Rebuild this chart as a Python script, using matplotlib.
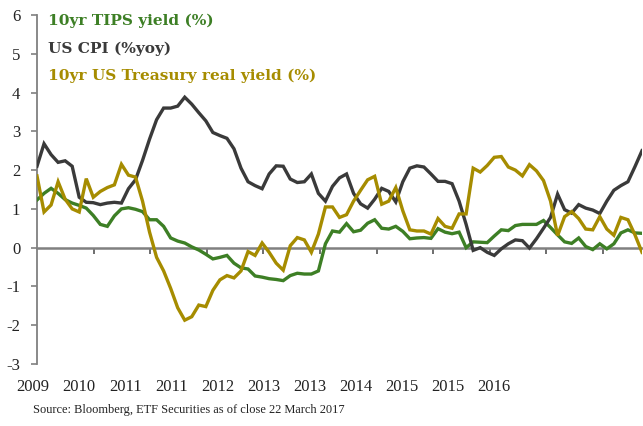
import numpy as np
import matplotlib
matplotlib.use("Agg")
import matplotlib.pyplot as plt

# ---- data ----
cpi = [2.1, 2.68, 2.4, 2.2, 2.24, 2.1, 1.3, 1.17, 1.16, 1.11,
       1.15, 1.17, 1.15, 1.52, 1.75, 2.25, 2.8, 3.3, 3.6, 3.6,
       3.65, 3.88, 3.7, 3.48, 3.27, 2.97, 2.89, 2.82, 2.55, 2.05,
       1.7, 1.6, 1.52, 1.9, 2.11, 2.1, 1.77, 1.68, 1.7, 1.9,
       1.4, 1.2, 1.58, 1.8, 1.9, 1.4, 1.13, 1.02, 1.25, 1.53,
       1.45, 1.18, 1.7, 2.05, 2.11, 2.08, 1.9, 1.71, 1.71, 1.65,
       1.2, 0.6, -0.07, 0.0, -0.12, -0.2, -0.03, 0.1, 0.2, 0.18,
       -0.01, 0.23, 0.5, 0.78, 1.38, 0.98, 0.89, 1.11, 1.02, 0.97,
       0.88, 1.2, 1.48, 1.6, 1.7, 2.09, 2.5]

real_yield = [1.85, 0.92, 1.1, 1.7, 1.25, 1.0, 0.92, 1.78, 1.3, 1.45,
              1.55, 1.62, 2.15, 1.87, 1.82, 1.2, 0.4, -0.25, -0.6, -1.05,
              -1.55, -1.87, -1.78, -1.48, -1.52, -1.1, -0.83, -0.72, -0.78, -0.6,
              -0.1, -0.2, 0.12, -0.12, -0.4, -0.58, 0.05, 0.26, 0.2, -0.12,
              0.35, 1.05, 1.05, 0.78, 0.85, 1.2, 1.48, 1.75, 1.84, 1.12,
              1.2, 1.55, 0.95, 0.46, 0.43, 0.43, 0.35, 0.75, 0.55, 0.5,
              0.87, 0.87, 2.05, 1.95, 2.12, 2.33, 2.35, 2.08, 2.0, 1.85,
              2.14, 1.98, 1.73, 1.2, 0.31, 0.8, 0.93, 0.75, 0.48, 0.46,
              0.8, 0.48, 0.32, 0.78, 0.72, 0.33, -0.12]

tips = [1.23, 1.4, 1.53, 1.4, 1.24, 1.15, 1.09, 1.02, 0.83, 0.6,
        0.55, 0.82, 1.0, 1.03, 0.99, 0.93, 0.72, 0.72, 0.55, 0.25,
        0.17, 0.12, 0.02, -0.06, -0.17, -0.29, -0.25, -0.2, -0.4, -0.52,
        -0.55, -0.73, -0.76, -0.8, -0.82, -0.85, -0.72, -0.66, -0.68, -0.68,
        -0.6, 0.1, 0.43, 0.4, 0.62, 0.41, 0.45, 0.63, 0.72, 0.5,
        0.48, 0.55, 0.42, 0.23, 0.25, 0.26, 0.24, 0.49, 0.4, 0.36,
        0.4, 0.0, 0.15, 0.14, 0.13, 0.3, 0.46, 0.44, 0.57, 0.6,
        0.6, 0.6, 0.7, 0.52, 0.33, 0.15, 0.11, 0.25, 0.03, -0.05,
        0.1, -0.03, 0.1, 0.38, 0.46, 0.38, 0.37]

x_labels = ["2009", "2010", "2011", "2011", "2012", "2013", "2013",
            "2014", "2015", "2015", "2016"]
series_names = ["10yr TIPS yield (%)", "US CPI (%yoy)",
                "10yr US Treasury real yield (%)"]

# ---- style ----
plt.rcParams["axes.unicode_minus"] = False
GREEN = "#3d7f25"
DARK = "#3a3a3a"
GOLD = "#a68c00"
AXIS = "#808080"
SERIF = ["Liberation Serif", "DejaVu Serif"]

fig = plt.figure(figsize=(6.43, 4.26), dpi=100)
ax = fig.add_axes([37 / 643, (426 - 364) / 426, 605 / 643, (364 - 15) / 426])

x = np.arange(len(cpi))
ax.plot(x, tips, color=GREEN, lw=2.4, zorder=3, solid_joinstyle="miter")
ax.plot(x, cpi, color=DARK, lw=2.4, zorder=3, solid_joinstyle="miter")
ax.plot(x, real_yield, color=GOLD, lw=2.4, zorder=3, solid_joinstyle="miter")

ax.set_xlim(0, len(cpi) - 1)
ax.set_ylim(-3, 6)

for s in ("top", "right"):
    ax.spines[s].set_visible(False)
ax.spines["left"].set_color(AXIS)
ax.spines["left"].set_linewidth(1.3)
ax.spines["bottom"].set_position(("data", 0))
ax.spines["bottom"].set_color(AXIS)
ax.spines["bottom"].set_linewidth(1.8)
ax.spines["bottom"].set_zorder(2)

ax.set_yticks(range(-3, 7))
ax.tick_params(axis="y", length=4, width=1.2, color=AXIS, pad=8,
               labelsize=12, labelcolor="#222222")
for lab in ax.get_yticklabels():
    lab.set_family(SERIF)

px_per_pt = 605 / (len(cpi) - 1)
tick_step = 56.6 / px_per_pt
ax.set_xticks([tick_step * k for k in range(1, 11)])
ax.tick_params(axis="x", length=4, width=1.2, color="#555555",
               labelbottom=False, direction="out")

label_step = 46.1 / px_per_pt
label_start = -4 / px_per_pt
for k, lab in enumerate(x_labels):
    ax.text(label_start + k * label_step, -0.066, lab,
            transform=ax.get_xaxis_transform(), ha="center", va="center",
            fontsize=12, family=SERIF, color="#222222", clip_on=False)

# legend-like labels
for yy, name, col in zip([21, 48.5, 76], series_names, [GREEN, DARK, GOLD]):
    fig.text(48 / 643, 1 - yy / 426, name, color=col, fontsize=11.1,
             fontweight="bold", family=["DejaVu Serif"], va="center", ha="left")

fig.text(33 / 643, 1 - 410 / 426,
         "Source: Bloomberg, ETF Securities as of close 22 March 2017",
         fontsize=8.9, family=SERIF, color="#222222", va="center", ha="left")

fig.savefig("out.png", dpi=100)
